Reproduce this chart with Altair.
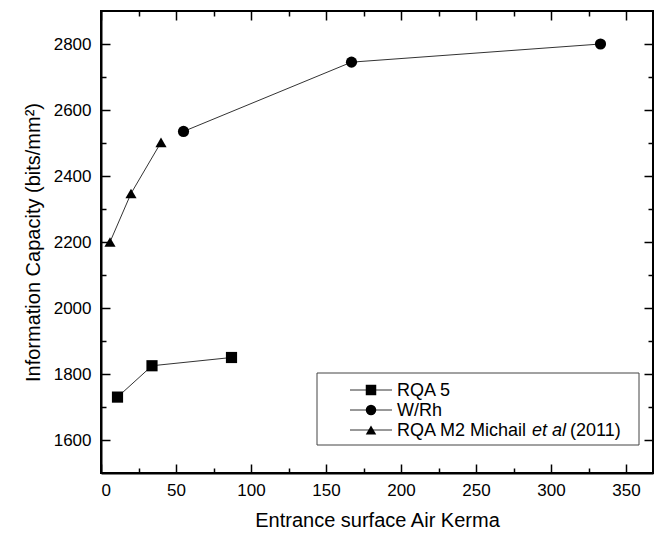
import altair as alt
import pandas as pd

# ---- data ----
series_names = ["RQA 5", "W/Rh", "RQA M2 Michail et al (2011)"]
rqa5_x = [11, 34, 87]
rqa5_y = [1730, 1825, 1850]
wrh_x = [55, 167, 333]
wrh_y = [2535, 2745, 2800]
m2_x = [6, 20, 40]
m2_y = [2200, 2347, 2502]

x_ticks = [0, 25, 50, 75, 100, 125, 150, 175, 200, 225, 250, 275, 300, 325, 350]
y_ticks = [1600, 1700, 1800, 1900, 2000, 2100, 2200, 2300, 2400, 2500, 2600, 2700, 2800]

rows = []
for name, xs, ys in zip(series_names, [rqa5_x, wrh_x, m2_x], [rqa5_y, wrh_y, m2_y]):
    for i, (a, b) in enumerate(zip(xs, ys)):
        rows.append({"series": name, "x": a, "y": b, "order": i})
df = pd.DataFrame(rows)

W, H = 552, 462
XMAX = 368
FONT = "Liberation Sans"
XT = "Entrance surface Air Kerma"
YT = "Information Capacity (bits/mm²)"

xscale = alt.Scale(domain=[0, XMAX], nice=False, zero=False)
yscale = alt.Scale(domain=[1500, 2900], nice=False, zero=False)
shapes = alt.Scale(domain=series_names, range=["square", "circle", "triangle-up"])

XTS = {"expr": "datum.value % 50 === 0 ? -9 : -5"}
YTS = {"expr": "datum.value % 200 === 0 ? -9 : -5"}

xaxis = alt.Axis(orient="bottom", values=x_ticks, format="d", zindex=1,
                 labelExpr="datum.value % 50 === 0 ? datum.label : ''",
                 ticks=True, tickSize=XTS, tickColor="black", tickWidth=1.5,
                 grid=False, labelFont=FONT, labelFontSize=17,
                 labelColor="black", domainColor="black", domainWidth=2, labelPadding=18,
                 title=XT, titleFont=FONT, titleFontSize=20,
                 titleFontWeight="normal", titleColor="black", titlePadding=12)
yaxis = alt.Axis(orient="left", values=y_ticks, format="d", zindex=1,
                 labelExpr="datum.value % 200 === 0 ? datum.label : ''",
                 ticks=True, tickSize=YTS, tickColor="black", tickWidth=1.5,
                 grid=False, labelFont=FONT, labelFontSize=17,
                 labelColor="black", domainColor="black", domainWidth=2, labelPadding=19,
                 title=YT, titleFont=FONT, titleFontSize=20,
                 titleFontWeight="normal", titleColor="black", titlePadding=10)
xaxis_top = alt.Axis(orient="top", values=x_ticks, labels=False, domain=False, grid=False, zindex=1,
                     ticks=True, tickSize=XTS, tickColor="black", tickWidth=1.5, title=None)
yaxis_right = alt.Axis(orient="right", values=y_ticks, labels=False, domain=False, grid=False, zindex=1,
                       ticks=True, tickSize=YTS, tickColor="black", tickWidth=1.5, title=None)

lines = alt.Chart(df).mark_line(color="#333333", strokeWidth=1).encode(
    x=alt.X("x:Q", scale=xscale, axis=xaxis, title=XT),
    y=alt.Y("y:Q", scale=yscale, axis=yaxis, title=YT),
    detail="series:N",
    order="order:Q",
)
points = alt.Chart(df).mark_point(filled=True, color="black", opacity=1, size=125).encode(
    x=alt.X("x:Q", scale=xscale, axis=xaxis_top),
    y=alt.Y("y:Q", scale=yscale, axis=yaxis_right),
    shape=alt.Shape("series:N", scale=shapes, legend=None),
)
layers = [lines, points]

one = pd.DataFrame({"a": [0]})
# legend box
layers.append(alt.Chart(one).mark_rect(fill="white", stroke="#444444", strokeWidth=1).encode(
    x=alt.value(216), x2=alt.value(538), y=alt.value(362), y2=alt.value(434)))
leg_y = [379, 399, 419]
for name, shp, yy in zip(series_names, ["square", "circle", "triangle-up"], leg_y):
    layers.append(alt.Chart(one).mark_rule(color="#333333", strokeWidth=1).encode(
        x=alt.value(249), x2=alt.value(291), y=alt.value(yy)))
    layers.append(alt.Chart(one).mark_point(filled=True, color="black", opacity=1, size=110, shape=shp).encode(
        x=alt.value(270), y=alt.value(yy)))
label_parts = [
    [("RQA 5", 296, "normal")],
    [("W/Rh", 296, "normal")],
    [("RQA M2 Michail", 296, "normal"), ("et al", 431, "italic"), ("(2011)", 469, "normal")],
]
for parts, yy in zip(label_parts, leg_y):
    for txt, xx, style in parts:
        layers.append(alt.Chart(one).mark_text(text=txt, font=FONT, fontSize=18, fontStyle=style,
                                               align="left", baseline="middle", color="black").encode(
            x=alt.value(xx), y=alt.value(yy + 1)))

chart = alt.layer(*layers).resolve_axis(x="independent", y="independent").properties(
    width=W, height=H,
    autosize=alt.AutoSizeParams(type="none"),
    padding={"left": 93, "top": 3, "right": 1, "bottom": 58},
).configure_view(stroke="black", strokeWidth=2)

chart.save("out.html", embed_options={"renderer": "svg", "actions": False})
